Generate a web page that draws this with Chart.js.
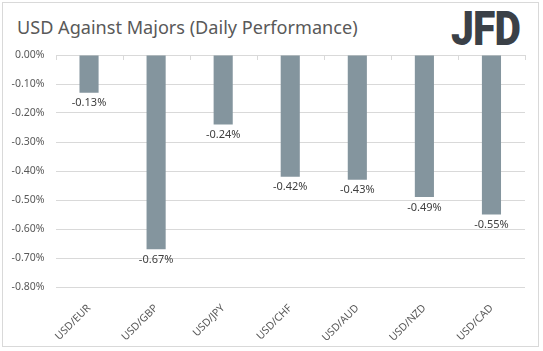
<!DOCTYPE html>
<html>
<head>
<meta charset="utf-8">
<script src="https://cdn.jsdelivr.net/npm/chart.js@4"></script>
<style>
    html, body { margin: 0; padding: 0; background: #fff; }
    .frame { position: relative; width: 543px; height: 351px; }
    .border { position: absolute; left: 2px; top: 2px; width: 537px; height: 345px; border: 1px solid #d9d9d9; box-sizing: border-box; }
    .title { position: absolute; left: 17px; top: 15px; font-family: 'Noto Sans', sans-serif; font-size: 18.1px; color: #595959; white-space: nowrap; }
    .logo { position: absolute; left: 451px; top: 0px; font-family: 'Roboto', 'DejaVu Sans', sans-serif; font-weight: 900; font-size: 48px; color: #3a4047; letter-spacing: -1px; transform: scaleX(0.85); transform-origin: left top; }
    canvas { position: absolute; left: 0; top: 0; }
</style>
</head>
<body>
<div class="frame">
    <div class="border"></div>
    <div class="title">USD Against Majors (Daily Performance)</div>
    <div class="logo">JFD</div>
    <canvas id="perfChart" width="543" height="351"></canvas>
</div>
<script>
const pairs = ['USD/EUR', 'USD/GBP', 'USD/JPY', 'USD/CHF', 'USD/AUD', 'USD/NZD', 'USD/CAD'];
const changes = [-0.13, -0.67, -0.24, -0.42, -0.43, -0.49, -0.55];
const yMin = -0.8;
const yMax = 0;
const yStep = 0.1;

const barColor = '#84959e';
const textColor = '#595959';
const gridColor = '#d9d9d9';

function fmtPct(v) {
    return v.toFixed(2) + '%';
}

// value labels under each bar end
const valueLabels = {
    id: 'valueLabels',
    afterDatasetsDraw(chart) {
        const ctx = chart.ctx;
        const meta = chart.getDatasetMeta(0);
        ctx.save();
        ctx.font = '11px "Noto Sans", sans-serif';
        ctx.fillStyle = '#404040';
        ctx.textAlign = 'center';
        ctx.textBaseline = 'top';
        meta.data.forEach((bar, i) => {
            ctx.fillText(fmtPct(changes[i]), bar.x, bar.y + 5);
        });
        ctx.restore();
    }
};

// little category tick marks on the zero line
const categoryTicks = {
    id: 'categoryTicks',
    afterDraw(chart) {
        const ctx = chart.ctx;
        const xScale = chart.scales.x;
        const top = chart.scales.y.getPixelForValue(0);
        ctx.save();
        ctx.strokeStyle = gridColor;
        ctx.lineWidth = 1;
        for (let i = 0; i <= pairs.length; i++) {
            const x = Math.round(xScale.getPixelForValue(i - 0.5)) + 0.5;
            ctx.beginPath();
            ctx.moveTo(x, top);
            ctx.lineTo(x, top + 5);
            ctx.stroke();
        }
        ctx.restore();
    }
};

new Chart(document.getElementById('perfChart'), {
    type: 'bar',
    data: {
        labels: pairs,
        datasets: [{
            data: changes,
            backgroundColor: barColor,
            barPercentage: 0.285,
            categoryPercentage: 1
        }]
    },
    options: {
        responsive: false,
        animation: false,
        layout: {
            padding: { top: 55, left: 0, right: 18, bottom: 0 }
        },
        plugins: {
            legend: { display: false },
            tooltip: { enabled: false }
        },
        scales: {
            x: {
                grid: { display: false, drawTicks: false },
                border: { display: false },
                ticks: {
                    color: textColor,
                    font: { family: 'Noto Sans', size: 10.5 },
                    minRotation: 45,
                    maxRotation: 45,
                    padding: 15
                },
                afterFit(scale) { scale.height = 64; }
            },
            y: {
                min: yMin,
                max: yMax,
                grid: { color: gridColor, drawTicks: false },
                border: { display: false },
                ticks: {
                    stepSize: yStep,
                    color: textColor,
                    font: { family: 'Noto Sans', size: 10.5 },
                    padding: 11,
                    callback: (v) => fmtPct(v)
                },
                afterFit(scale) { scale.width = 55.5; }
            }
        }
    },
    plugins: [valueLabels, categoryTicks]
});
</script>
</body>
</html>
